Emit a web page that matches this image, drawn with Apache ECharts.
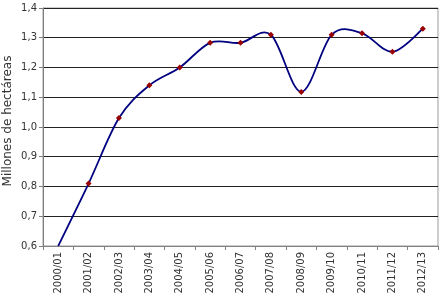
<!DOCTYPE html>
<html><head><meta charset="utf-8">
<script src="https://cdn.jsdelivr.net/npm/echarts@6/dist/echarts.min.js"></script>
<style>html,body{margin:0;padding:0;background:#fff}#c{width:448px;height:300px}</style>
</head><body><div id="c"></div>
<script>
var categories = ['2000/01','2001/02','2002/03','2003/04','2004/05','2005/06','2006/07','2007/08','2008/09','2009/10','2010/11','2011/12','2012/13'];
var values = [0.60, 0.81, 1.03, 1.14, 1.20, 1.283, 1.283, 1.31, 1.118, 1.31, 1.315, 1.253, 1.33];
var yTicks = { min: 0.6, max: 1.4, interval: 0.1 };
var yName = 'Millones de hectáreas';

// Excel-style smoothed curve through the data points (cardinal spline, computed in pixel space from the axis scales)
function renderCurve(params, api) {
  if (params.dataIndex !== 0) return null;
  var pts = [];
  for (var i = 0; i < values.length; i++) pts.push(api.coord([i, values[i]]));
  var d = 'M' + pts[0][0] + ',' + pts[0][1];
  for (var k = 0; k < pts.length - 1; k++) {
    var p0 = pts[Math.max(k - 1, 0)], p1 = pts[k], p2 = pts[k + 1], p3 = pts[Math.min(k + 2, pts.length - 1)];
    var c1 = [p1[0] + (p2[0] - p0[0]) / 6, p1[1] + (p2[1] - p0[1]) / 6];
    var c2 = [p2[0] - (p3[0] - p1[0]) / 6, p2[1] - (p3[1] - p1[1]) / 6];
    d += 'C' + c1[0] + ',' + c1[1] + ' ' + c2[0] + ',' + c2[1] + ' ' + p2[0] + ',' + p2[1];
  }
  var cs = params.coordSys;
  return {
    type: 'path',
    shape: { pathData: d },
    style: { fill: null, stroke: '#000080', lineWidth: 1.8 },
    clipPath: { type: 'rect', shape: { x: cs.x, y: cs.y, width: cs.width, height: cs.height } }
  };
}

var chart = echarts.init(document.getElementById('c'));
chart.setOption({
  animation: false,
  textStyle: { fontFamily: 'Verdana, "DejaVu Sans", sans-serif' },
  grid: { left: 43, right: 10, top: 8, bottom: 54, show: true, borderColor: '#9a9a9a', borderWidth: 1 },
  graphic: [{
    type: 'text', x: 8, y: 121, rotation: Math.PI / 2,
    style: { text: yName, fontSize: 12, fill: '#333', align: 'center', verticalAlign: 'middle',
      fontFamily: 'Verdana, "DejaVu Sans", sans-serif' }
  }],
  xAxis: {
    type: 'category', data: categories, boundaryGap: true,
    axisLine: { lineStyle: { color: '#808080', width: 1 } },
    axisTick: { show: true, length: 4, lineStyle: { color: '#808080' } },
    axisLabel: { rotate: 90, fontSize: 10, color: '#333', margin: 6, interval: 0 }
  },
  yAxis: {
    type: 'value', min: yTicks.min, max: yTicks.max, interval: yTicks.interval,
    axisLine: { show: true, lineStyle: { color: '#808080', width: 1 } },
    axisTick: { show: true, length: 4, lineStyle: { color: '#808080' } },
    axisLabel: { fontSize: 10, color: '#333', margin: 6,
      formatter: function (v) { return v.toFixed(1).replace('.', ','); } },
    splitLine: { lineStyle: { color: '#222', width: 1 } }
  },
  series: [{
    type: 'custom', data: values.map(function (v, i) { return [i, v]; }),
    renderItem: renderCurve, z: 2, silent: true
  }, {
    type: 'line', data: values,
    lineStyle: { opacity: 0 },
    itemStyle: { color: '#990000' },
    symbol: function (v, p) { return p.dataIndex === 0 ? 'none' : 'diamond'; },
    symbolSize: 6, z: 3
  }]
});
</script></body></html>
